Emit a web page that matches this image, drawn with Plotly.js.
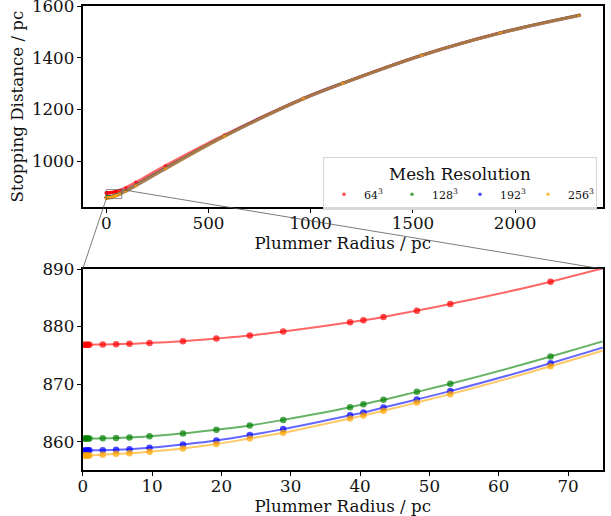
<!DOCTYPE html>
<html><head><meta charset="utf-8">
<script src="https://cdn.plot.ly/plotly-3.0.1.min.js"></script>
<style>html,body{margin:0;padding:0;background:#fff}</style>
</head><body><div id="chart" style="width:611px;height:516px"></div>
<script>
// Plummer radius / pc
const radius = [0.19, 0.39, 0.58, 0.77, 0.96, 2.89, 4.82, 6.75, 9.64, 14.46, 19.28, 24.1, 28.92, 38.56, 40.49, 43.38, 48.2, 53.02, 67.48, 96.4, 144.6, 289.2, 578.4, 964, 1156.8, 1542.4, 1928, 2313.6];
// Stopping distance / pc for each mesh resolution
const res64  = [876.85, 876.85, 876.85, 876.86, 876.86, 876.9, 876.95, 877.0, 877.17, 877.46, 877.92, 878.44, 879.13, 880.75, 881.1, 881.68, 882.77, 883.93, 887.8, 897.5, 918, 982, 1101, 1243, 1302, 1410, 1497, 1565];
const res128 = [860.58, 860.58, 860.58, 860.58, 860.58, 860.6, 860.65, 860.75, 860.98, 861.45, 862.08, 862.83, 863.8, 866.0, 866.53, 867.28, 868.67, 870.06, 874.8, 885.5, 906.5, 972, 1097, 1242, 1301.5, 1409.5, 1496.5, 1564.5];
const res192 = [858.5, 858.5, 858.5, 858.52, 858.53, 858.55, 858.6, 858.7, 858.95, 859.54, 860.23, 861.16, 862.2, 864.6, 865.1, 865.95, 867.34, 868.8, 873.64, 884.5, 905.5, 971, 1096.5, 1241.5, 1301, 1409, 1496, 1564];
const res256 = [857.6, 857.6, 857.6, 857.62, 857.63, 857.75, 857.9, 858.0, 858.27, 858.84, 859.6, 860.58, 861.56, 864.05, 864.57, 865.38, 866.82, 868.27, 873.1, 884, 905, 970.5, 1096, 1241.5, 1301, 1409, 1496, 1564];
const seriesNames = ['64<sup>3</sup>', '128<sup>3</sup>', '192<sup>3</sup>', '256<sup>3</sup>'];
const xTicksMain = [0, 500, 1000, 1500, 2000];
const yTicksMain = [1000, 1200, 1400, 1600];
const xTicksZoom = [0, 10, 20, 30, 40, 50, 60, 70];
const yTicksZoom = [860, 870, 880, 890];

const series = [res64, res128, res192, res256];
const lineCols = ['rgba(255,0,0,0.6)', 'rgba(0,128,0,0.6)', 'rgba(0,0,255,0.6)', 'rgba(255,165,0,0.6)'];
const markCols = ['rgba(255,0,0,0.7)', 'rgba(0,128,0,0.7)', 'rgba(0,0,255,0.7)', 'rgba(255,165,0,0.7)'];

const W = 611, H = 516;
const FONT = 'DejaVu Serif';
const FS = 16.7;
const xr1 = [-115.6, 2428.6], yr1 = [822.6, 1600.4];
const xr2 = [0, 75], yr2 = [855.1, 890];
const xd = [82.7 / W, 602.7 / W];
const yd1 = [1 - 207 / H, 1 - 6 / H];
const yd2 = [1 - 470 / H, 1 - 269 / H];

const traces = [];
series.forEach((ys, i) => {
  traces.push({x: radius, y: ys, xaxis: 'x', yaxis: 'y', mode: 'lines', line: {color: lineCols[i], width: 3, shape: 'spline', smoothing: 1}, showlegend: false, hoverinfo: 'skip'});
  traces.push({x: radius, y: ys, xaxis: 'x', yaxis: 'y', mode: 'markers', marker: {color: markCols[i], size: 3.5}, name: seriesNames[i], showlegend: true});
  traces.push({x: radius, y: ys, xaxis: 'x2', yaxis: 'y2', mode: 'lines', line: {color: lineCols[i], width: 2, shape: 'spline', smoothing: 1}, showlegend: false, hoverinfo: 'skip'});
  traces.push({x: radius, y: ys, xaxis: 'x2', yaxis: 'y2', mode: 'markers', marker: {color: markCols[i], size: 6.5}, showlegend: false});
});

function axisBase(standoffLbl) {
  return {showgrid: false, zeroline: false, showline: true, mirror: true, linecolor: '#000', linewidth: 2,
    ticks: 'outside', ticklen: 4, tickwidth: 1, tickcolor: '#000', automargin: false,
    ticklabeloverflow: 'allow', ticklabelstandoff: standoffLbl,
    tickfont: {family: FONT, size: FS, color: '#111'}};
}
const titleFont = {family: FONT, size: FS, color: '#111'};

function px(v, r, d) { return d[0] + (v - r[0]) / (r[1] - r[0]) * (d[1] - d[0]); }

const shapes = [
  {type: 'rect', xref: 'x', yref: 'y', x0: xr2[0], x1: xr2[1], y0: yr2[0], y1: yr2[1], line: {color: 'rgba(90,90,90,0.7)', width: 1}, fillcolor: 'rgba(0,0,0,0)', layer: 'above'},
  {type: 'line', xref: 'paper', yref: 'paper', x0: px(xr2[0], xr1, xd), y0: px(yr2[0], yr1, yd1), x1: xd[0], y1: yd2[1], line: {color: 'rgba(80,80,80,0.75)', width: 1}},
  {type: 'line', xref: 'paper', yref: 'paper', x0: px(xr2[1], xr1, xd), y0: px(yr2[1], yr1, yd1), x1: xd[1], y1: yd2[1], line: {color: 'rgba(80,80,80,0.75)', width: 1}}
];

const layout = {
  width: W, height: H, margin: {l: 0, r: 0, t: 0, b: 0},
  paper_bgcolor: '#fff', plot_bgcolor: '#fff',
  font: {family: FONT, color: '#111'},
  showlegend: true,
  xaxis: Object.assign(axisBase(-4), {domain: xd, range: xr1, anchor: 'y', tickvals: xTicksMain,
    title: {text: 'Plummer Radius / pc', font: titleFont, standoff: 0}}),
  yaxis: Object.assign(axisBase(-1), {domain: yd1, range: yr1, anchor: 'x', tickvals: yTicksMain,
    title: {text: 'Stopping Distance / pc', font: titleFont, standoff: 4}}),
  xaxis2: Object.assign(axisBase(-4), {domain: xd, range: xr2, anchor: 'y2', tickvals: xTicksZoom,
    title: {text: 'Plummer Radius / pc', font: titleFont, standoff: 0}}),
  yaxis2: Object.assign(axisBase(-1), {domain: yd2, range: yr2, anchor: 'x2', tickvals: yTicksZoom}),
  legend: {x: 597 / W, xanchor: 'right', y: 1 - 157 / H, yanchor: 'top', orientation: 'h',
    title: {text: 'Mesh Resolution', side: 'top center', font: {family: FONT, size: FS, color: '#111'}},
    font: {family: FONT, size: 11, color: '#111'}, bordercolor: '#d6d6d6', borderwidth: 1,
    bgcolor: 'rgba(255,255,255,0.85)', entrywidth: 23, itemsizing: 'trace'},
  shapes: shapes
};

Plotly.newPlot('chart', traces, layout, {staticPlot: true, displayModeBar: false});
</script></body></html>
